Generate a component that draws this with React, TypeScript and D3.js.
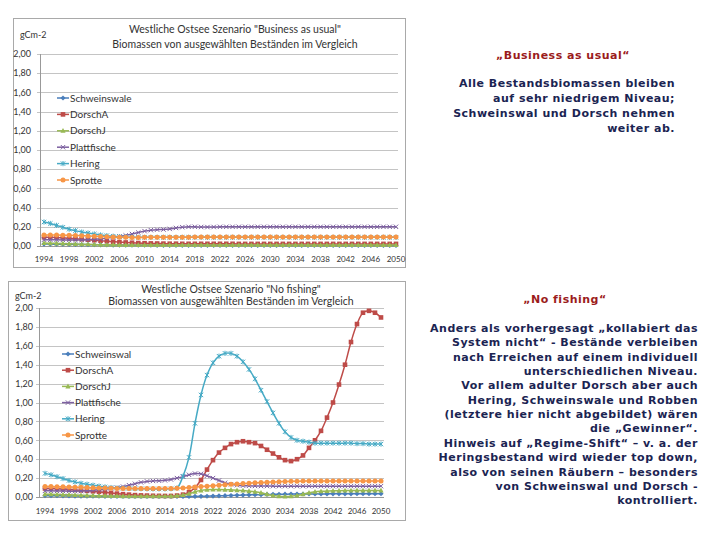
import React from "react";
import * as d3 from "d3";

const years: number[] = d3.range(1994, 2051);
const xTickYears: number[] = [1994, 1998, 2002, 2006, 2010, 2014, 2018, 2022, 2026, 2030, 2034, 2038, 2042, 2046, 2050];
const yTicks: number[] = [0, 0.2, 0.4, 0.6, 0.8, 1.0, 1.2, 1.4, 1.6, 1.8, 2.0];

// ---------- Business as usual ----------
const bauSchweinswale = [0.02, 0.02, 0.019, 0.018, 0.017, 0.016, 0.015, 0.014, 0.013, 0.012, 0.011, 0.01, 0.01, 0.009, 0.009, 0.008, 0.008, 0.008, 0.007, 0.007, 0.007, 0.007, 0.007, 0.007, 0.007, 0.007, 0.007, 0.007, 0.007, 0.007, 0.007, 0.007, 0.007, 0.007, 0.006, 0.006, 0.006, 0.006, 0.006, 0.006, 0.006, 0.006, 0.006, 0.006, 0.006, 0.006, 0.006, 0.006, 0.006, 0.006, 0.006, 0.006, 0.006, 0.006, 0.006, 0.006, 0.006];
const bauDorschA = [0.09, 0.09, 0.088, 0.085, 0.08, 0.075, 0.07, 0.065, 0.06, 0.055, 0.05, 0.045, 0.04, 0.037, 0.034, 0.031, 0.029, 0.027, 0.026, 0.025, 0.024, 0.024, 0.023, 0.023, 0.023, 0.023, 0.023, 0.023, 0.023, 0.023, 0.023, 0.022, 0.022, 0.022, 0.022, 0.022, 0.022, 0.022, 0.022, 0.022, 0.022, 0.022, 0.022, 0.022, 0.022, 0.022, 0.022, 0.022, 0.022, 0.022, 0.022, 0.022, 0.022, 0.022, 0.022, 0.022, 0.022];
const bauDorschJ = [0.03, 0.029, 0.027, 0.025, 0.023, 0.021, 0.019, 0.017, 0.015, 0.014, 0.013, 0.012, 0.011, 0.011, 0.01, 0.01, 0.01, 0.01, 0.01, 0.01, 0.01, 0.01, 0.01, 0.01, 0.01, 0.01, 0.01, 0.01, 0.01, 0.01, 0.01, 0.01, 0.01, 0.01, 0.01, 0.01, 0.01, 0.01, 0.01, 0.01, 0.01, 0.01, 0.01, 0.01, 0.01, 0.01, 0.01, 0.01, 0.01, 0.01, 0.01, 0.01, 0.01, 0.01, 0.01, 0.01, 0.01];
const bauPlattfische = [0.065, 0.065, 0.064, 0.063, 0.062, 0.062, 0.063, 0.066, 0.07, 0.075, 0.082, 0.09, 0.1, 0.11, 0.125, 0.14, 0.155, 0.165, 0.17, 0.172, 0.178, 0.188, 0.196, 0.2, 0.2, 0.198, 0.197, 0.198, 0.2, 0.2, 0.2, 0.2, 0.2, 0.2, 0.2, 0.2, 0.2, 0.2, 0.2, 0.2, 0.2, 0.2, 0.2, 0.2, 0.2, 0.2, 0.2, 0.2, 0.2, 0.2, 0.2, 0.2, 0.2, 0.2, 0.2, 0.2, 0.2];
const bauHering = [0.25, 0.235, 0.215, 0.195, 0.175, 0.16, 0.145, 0.135, 0.125, 0.115, 0.108, 0.102, 0.097, 0.094, 0.092, 0.09, 0.09, 0.09, 0.09, 0.09, 0.09, 0.09, 0.09, 0.09, 0.09, 0.09, 0.09, 0.09, 0.09, 0.09, 0.09, 0.09, 0.09, 0.09, 0.09, 0.09, 0.09, 0.09, 0.09, 0.09, 0.09, 0.09, 0.09, 0.09, 0.09, 0.09, 0.09, 0.09, 0.09, 0.09, 0.09, 0.09, 0.09, 0.09, 0.09, 0.09, 0.09];
const bauSprotte = [0.115, 0.115, 0.114, 0.113, 0.112, 0.11, 0.108, 0.105, 0.102, 0.099, 0.096, 0.093, 0.091, 0.09, 0.089, 0.089, 0.09, 0.09, 0.091, 0.091, 0.092, 0.092, 0.092, 0.092, 0.093, 0.093, 0.093, 0.093, 0.093, 0.093, 0.093, 0.093, 0.093, 0.093, 0.093, 0.093, 0.093, 0.093, 0.093, 0.093, 0.093, 0.093, 0.093, 0.093, 0.093, 0.093, 0.093, 0.093, 0.093, 0.093, 0.093, 0.093, 0.093, 0.093, 0.093, 0.093, 0.093];

// ---------- No fishing ----------
const nfSchweinswal = [0.015, 0.014, 0.013, 0.012, 0.011, 0.01, 0.009, 0.009, 0.008, 0.008, 0.007, 0.007, 0.007, 0.007, 0.006, 0.006, 0.006, 0.006, 0.006, 0.006, 0.006, 0.006, 0.006, 0.006, 0.006, 0.006, 0.007, 0.008, 0.01, 0.012, 0.014, 0.016, 0.018, 0.02, 0.022, 0.024, 0.025, 0.027, 0.028, 0.029, 0.03, 0.031, 0.031, 0.032, 0.032, 0.033, 0.033, 0.033, 0.034, 0.034, 0.034, 0.034, 0.035, 0.035, 0.035, 0.035, 0.035];
const nfDorschA = [0.09, 0.09, 0.088, 0.085, 0.08, 0.075, 0.07, 0.065, 0.06, 0.055, 0.048, 0.042, 0.036, 0.03, 0.025, 0.02, 0.017, 0.015, 0.013, 0.012, 0.011, 0.011, 0.015, 0.025, 0.05, 0.1, 0.18, 0.29, 0.39, 0.47, 0.52, 0.56, 0.58, 0.59, 0.58, 0.57, 0.54, 0.5, 0.46, 0.42, 0.39, 0.38, 0.4, 0.44, 0.52, 0.6, 0.7, 0.84, 1.0, 1.19, 1.4, 1.64, 1.83, 1.95, 1.97, 1.95, 1.9];
const nfDorschJ = [0.03, 0.029, 0.027, 0.025, 0.023, 0.021, 0.019, 0.017, 0.015, 0.013, 0.012, 0.011, 0.01, 0.009, 0.008, 0.008, 0.008, 0.008, 0.008, 0.008, 0.008, 0.009, 0.012, 0.02, 0.035, 0.055, 0.07, 0.078, 0.08, 0.08, 0.078, 0.075, 0.072, 0.068, 0.062, 0.055, 0.045, 0.03, 0.015, 0.008, 0.006, 0.008, 0.015, 0.03, 0.045, 0.055, 0.06, 0.063, 0.066, 0.067, 0.068, 0.069, 0.07, 0.07, 0.07, 0.07, 0.07];
const nfPlattfische = [0.065, 0.065, 0.064, 0.063, 0.062, 0.062, 0.063, 0.066, 0.07, 0.076, 0.083, 0.09, 0.1, 0.11, 0.125, 0.14, 0.155, 0.165, 0.17, 0.172, 0.176, 0.185, 0.2, 0.215, 0.235, 0.248, 0.245, 0.225, 0.2, 0.175, 0.15, 0.135, 0.125, 0.12, 0.118, 0.117, 0.116, 0.116, 0.115, 0.115, 0.115, 0.115, 0.115, 0.115, 0.115, 0.115, 0.115, 0.115, 0.115, 0.115, 0.115, 0.115, 0.115, 0.115, 0.115, 0.115, 0.115];
const nfHering = [0.25, 0.235, 0.215, 0.195, 0.175, 0.16, 0.145, 0.135, 0.125, 0.115, 0.107, 0.1, 0.095, 0.092, 0.09, 0.088, 0.087, 0.086, 0.085, 0.085, 0.085, 0.087, 0.095, 0.22, 0.42, 0.78, 1.08, 1.29, 1.42, 1.49, 1.52, 1.52, 1.49, 1.43, 1.35, 1.25, 1.13, 1.01, 0.89, 0.78, 0.69, 0.63, 0.6, 0.59, 0.58, 0.57, 0.57, 0.57, 0.57, 0.57, 0.57, 0.57, 0.565, 0.565, 0.56, 0.56, 0.56];
const nfSprotte = [0.11, 0.11, 0.109, 0.108, 0.106, 0.104, 0.102, 0.1, 0.098, 0.096, 0.094, 0.092, 0.091, 0.09, 0.089, 0.089, 0.089, 0.089, 0.089, 0.09, 0.09, 0.091, 0.093, 0.096, 0.1, 0.105, 0.11, 0.115, 0.12, 0.125, 0.13, 0.134, 0.138, 0.142, 0.146, 0.15, 0.153, 0.156, 0.159, 0.162, 0.164, 0.166, 0.167, 0.168, 0.169, 0.17, 0.17, 0.17, 0.17, 0.17, 0.17, 0.17, 0.17, 0.17, 0.17, 0.17, 0.17];

const bauNames = ["Schweinswale", "DorschA", "DorschJ", "Plattfische", "Hering", "Sprotte"];
const nfNames = ["Schweinswal", "DorschA", "DorschJ", "Plattfische", "Hering", "Sprotte"];
const colors = ["#4A7EBB", "#BE4B48", "#98B954", "#7D60A0", "#46AAC5", "#F79646"];
const markers = ["diamond", "square", "triangle", "x", "star", "circle"];

const bauSeries = [bauSchweinswale, bauDorschA, bauDorschJ, bauPlattfische, bauHering, bauSprotte];
const nfSeries = [nfSchweinswal, nfDorschA, nfDorschJ, nfPlattfische, nfHering, nfSprotte];

const bauTitle = ["Westliche Ostsee Szenario \"Business as usual\"", "Biomassen von ausgewählten Beständen im Vergleich"];
const nfTitle = ["Westliche Ostsee Szenario \"No  fishing\"", "Biomassen von ausgewählten Beständen im Vergleich"];

const bauHeading = "„Business as usual\u201C";
const bauText = ["Alle Bestandsbiomassen bleiben", "auf sehr niedrigem Niveau;", "Schweinswal und Dorsch nehmen", "weiter ab."];
const nfHeading = "„No fishing\u201C";
const nfText = [
  "Anders als vorhergesagt „kollabiert das",
  "System nicht\u201C - Bestände verbleiben",
  "nach Erreichen auf einem individuell",
  "unterschiedlichen Niveau.",
  "Vor allem adulter Dorsch aber auch",
  "Hering, Schweinswale und Robben",
  "(letztere hier nicht abgebildet) wären",
  "die „Gewinner\u201C.",
  "Hinweis auf „Regime-Shift\u201C – v. a. der",
  "Heringsbestand wird wieder top down,",
  "also von seinen Räubern – besonders",
  "von Schweinswal und Dorsch -",
  "kontrolliert.",
];

const FONT = "Lato, 'Open Sans', sans-serif";

function Marker({ type, x, y, color }: { type: string; x: number; y: number; color: string }) {
  const s = 2.2;
  switch (type) {
    case "diamond":
      return <path d={`M${x},${y - 2.6}L${x + 2.6},${y}L${x},${y + 2.6}L${x - 2.6},${y}Z`} fill={color} />;
    case "square":
      return <rect x={x - 2.3} y={y - 2.3} width={4.6} height={4.6} fill={color} />;
    case "triangle":
      return <path d={`M${x},${y - 2.8}L${x + 2.6},${y + 2}L${x - 2.6},${y + 2}Z`} fill={color} />;
    case "x":
      return <path d={`M${x - s},${y - s}L${x + s},${y + s}M${x - s},${y + s}L${x + s},${y - s}`} stroke={color} strokeWidth={1} />;
    case "star":
      return <path d={`M${x - s},${y - s}L${x + s},${y + s}M${x - s},${y + s}L${x + s},${y - s}M${x},${y - 2.6}L${x},${y + 2.6}`} stroke={color} strokeWidth={1} />;
    default:
      return <circle cx={x} cy={y} r={2.5} fill={color} />;
  }
}

type ChartProps = {
  frame: [number, number, number, number];
  title: string[];
  titleX: number;
  titleY: number[];
  unitPos: [number, number];
  axisX: number;
  gridRight: number;
  xRange: [number, number];
  yRange: [number, number];
  xLabelY: number;
  yLabelRight: number;
  names: string[];
  series: number[][];
  legendX: number;
  legendY: number;
  legendStep: number;
};

function Chart(p: ChartProps) {
  const x = d3.scalePoint<number>().domain(years).range(p.xRange);
  const y = d3.scaleLinear().domain([0, 2]).range(p.yRange);
  const line = d3
    .line<number>()
    .x((_, i) => x(years[i]) as number)
    .y((v) => y(v))
    .curve(d3.curveCatmullRom.alpha(0.5));
  const fmt = (v: number) => v.toFixed(2).replace(".", ",");
  const [fx, fy, fw, fh] = p.frame;
  return (
    <g>
      <rect x={fx + 0.5} y={fy + 0.5} width={fw} height={fh} fill="#fff" stroke="#a9a9a9" />
      {p.title.map((t, i) => (
        <text key={i} x={p.titleX} y={p.titleY[i]} textAnchor="middle" fontFamily={FONT} fontSize={10.5} fill="#333">
          {t}
        </text>
      ))}
      <text x={p.unitPos[0]} y={p.unitPos[1]} fontFamily={FONT} fontSize={9} fill="#333">
        gCm-2
      </text>
      {yTicks.map((t) => (
        <g key={t}>
          <line x1={p.axisX - 3} x2={p.gridRight} y1={Math.round(y(t)) + 0.5} y2={Math.round(y(t)) + 0.5} stroke={t === 0 ? "#999" : "#c4c4c4"} />
          <text x={p.yLabelRight} y={y(t) + 3.2} textAnchor="end" fontFamily={FONT} fontSize={9} fill="#333">
            {fmt(t)}
          </text>
        </g>
      ))}
      <line x1={p.axisX + 0.5} x2={p.axisX + 0.5} y1={y(2)} y2={y(0)} stroke="#999" />
      {xTickYears.map((yr) => (
        <text key={yr} x={x(yr)} y={p.xLabelY} textAnchor="middle" fontFamily={FONT} fontSize={8} fill="#333">
          {yr}
        </text>
      ))}
      {p.series.map((s, k) => (
        <g key={k}>
          <path d={line(s) || ""} fill="none" stroke={colors[k]} strokeWidth={1.5} />
          {s.map((v, i) => (
            <Marker key={i} type={markers[k]} x={x(years[i]) as number} y={y(v)} color={colors[k]} />
          ))}
        </g>
      ))}
      {p.names.map((n, k) => {
        const ly = p.legendY + k * p.legendStep;
        return (
          <g key={n}>
            <line x1={p.legendX} x2={p.legendX + 12} y1={ly} y2={ly} stroke={colors[k]} strokeWidth={1.5} />
            <Marker type={markers[k]} x={p.legendX + 6} y={ly} color={colors[k]} />
            <text x={p.legendX + 13} y={ly + 3.5} fontFamily={FONT} fontSize={10} fill="#333">
              {n}
            </text>
          </g>
        );
      })}
    </g>
  );
}

const TXT = "'DejaVu Sans', Verdana, sans-serif";

export default function App() {
  return (
    <svg width={720} height={540} style={{ position: "absolute", left: 0, top: 0, background: "#fff" }}>
      <rect width={720} height={540} fill="#fff" />
      <Chart
        frame={[13, 18, 392, 249]}
        title={bauTitle}
        titleX={235}
        titleY={[33, 48]}
        unitPos={[20, 38]}
        axisX={40}
        gridRight={398}
        xRange={[44, 396]}
        yRange={[246, 54]}
        xLabelY={262}
        yLabelRight={31}
        names={bauNames}
        series={bauSeries}
        legendX={57}
        legendY={98}
        legendStep={16.4}
      />
      <Chart
        frame={[8, 281, 397, 239]}
        title={nfTitle}
        titleX={231}
        titleY={[293, 305]}
        unitPos={[15, 299]}
        axisX={39}
        gridRight={384}
        xRange={[45, 381]}
        yRange={[497, 308]}
        xLabelY={514}
        yLabelRight={33}
        names={nfNames}
        series={nfSeries}
        legendX={62}
        legendY={354}
        legendStep={16.2}
      />
      <text x={563} y={59} textAnchor="middle" fontFamily={TXT} fontSize={11} fontWeight="bold" letterSpacing={0.5} fill="#9b1c1c">
        {bauHeading}
      </text>
      {bauText.map((t, i) => (
        <text key={i} x={675} y={87 + i * 15} textAnchor="end" fontFamily={TXT} fontSize={11} fontWeight="bold" letterSpacing={0.5} fill="#1b2452">
          {t}
        </text>
      ))}
      <text x={565} y={303} textAnchor="middle" fontFamily={TXT} fontSize={11} fontWeight="bold" letterSpacing={0.5} fill="#9b1c1c">
        {nfHeading}
      </text>
      {nfText.map((t, i) => (
        <text key={i} x={698} y={332 + i * 14.35} textAnchor="end" fontFamily={TXT} fontSize={11} fontWeight="bold" letterSpacing={0.5} fill="#1b2452">
          {t}
        </text>
      ))}
    </svg>
  );
}
